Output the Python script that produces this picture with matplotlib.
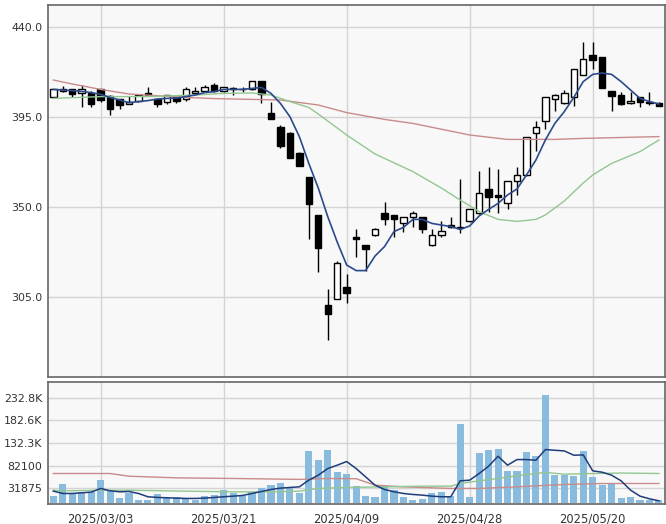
import matplotlib
matplotlib.use("Agg")
import matplotlib.pyplot as plt
import numpy as np

dates = ["2025/02/21", "2025/02/25", "2025/02/26", "2025/02/27", "2025/02/28",
         "2025/03/03", "2025/03/04", "2025/03/05", "2025/03/06", "2025/03/07",
         "2025/03/10", "2025/03/11", "2025/03/12", "2025/03/13", "2025/03/14",
         "2025/03/17", "2025/03/18", "2025/03/19", "2025/03/21", "2025/03/24",
         "2025/03/25", "2025/03/26", "2025/03/27", "2025/03/28", "2025/03/31",
         "2025/04/01", "2025/04/02", "2025/04/03", "2025/04/04", "2025/04/07",
         "2025/04/08", "2025/04/09", "2025/04/10", "2025/04/11", "2025/04/14",
         "2025/04/15", "2025/04/16", "2025/04/17", "2025/04/18", "2025/04/21",
         "2025/04/22", "2025/04/23", "2025/04/24", "2025/04/25", "2025/04/28",
         "2025/04/30", "2025/05/01", "2025/05/02", "2025/05/07", "2025/05/08",
         "2025/05/09", "2025/05/12", "2025/05/13", "2025/05/14", "2025/05/15",
         "2025/05/16", "2025/05/19", "2025/05/20", "2025/05/21", "2025/05/22",
         "2025/05/23", "2025/05/26", "2025/05/27", "2025/05/28", "2025/05/29"]

opens = [404.8, 407.8, 408.8, 406.8, 406.8, 408.8, 405.5, 403.8, 401.7, 402.8,
         406.8, 404.0, 402.5, 404.8, 403.8, 406.8, 407.8, 411.2, 407.8, 409.0,
         408.8, 408.8, 413.0, 397.2, 390.2, 386.8, 376.8, 365.0, 346.0, 301.0,
         304.0, 309.8, 334.8, 330.8, 335.8, 346.8, 345.8, 341.8, 344.8, 344.8,
         330.8, 335.8, 341.2, 339.5, 342.8, 346.8, 358.8, 355.8, 351.8, 362.8,
         365.8, 386.8, 392.8, 403.8, 401.8, 404.8, 416.0, 426.0, 425.0, 408.0,
         406.0, 401.8, 405.0, 402.2, 402.0]
highs = [409.2, 410.5, 409.2, 410.8, 408.0, 409.2, 406.0, 404.2, 405.7, 406.0,
         410.0, 404.3, 406.0, 405.0, 409.8, 409.8, 410.8, 411.8, 410.0, 409.8,
         409.8, 413.2, 413.2, 402.7, 391.0, 387.5, 377.5, 365.2, 346.2, 308.8,
         323.0, 316.5, 338.8, 331.0, 339.3, 352.7, 346.2, 345.0, 348.0, 345.2,
         338.8, 342.8, 344.8, 363.8, 349.0, 367.8, 369.8, 368.8, 363.0, 369.8,
         385.0, 392.8, 405.2, 406.5, 408.5, 419.2, 432.3, 432.3, 425.2, 408.2,
         407.5, 407.7, 405.2, 407.7, 402.3]
lows = [404.5, 407.5, 405.2, 399.8, 399.8, 402.7, 395.8, 399.0, 401.3, 402.5,
        405.6, 399.8, 401.7, 402.0, 402.8, 406.3, 407.3, 407.5, 407.3, 406.0,
        407.3, 408.5, 401.8, 393.8, 379.3, 374.5, 370.5, 334.0, 317.7, 283.5,
        303.8, 301.8, 324.8, 318.2, 335.3, 341.0, 334.8, 337.5, 339.8, 336.8,
        330.5, 334.8, 339.6, 337.2, 342.5, 346.5, 347.7, 346.8, 348.8, 355.8,
        365.5, 377.8, 388.8, 397.8, 401.5, 400.7, 415.8, 419.0, 409.5, 398.0,
        400.8, 401.5, 400.2, 401.0, 400.5]
closes = [408.8, 408.8, 406.5, 408.8, 401.5, 403.5, 398.8, 400.8, 402.5, 405.8,
          405.8, 401.5, 405.8, 402.8, 408.8, 407.8, 409.8, 407.8, 409.8, 409.3,
          409.0, 413.0, 406.5, 393.8, 380.7, 374.7, 370.7, 351.7, 329.7, 296.7,
          321.8, 306.8, 333.8, 328.8, 338.8, 343.8, 343.8, 344.8, 346.8, 338.8,
          335.8, 337.8, 339.8, 339.9, 348.8, 356.8, 354.8, 354.8, 362.8, 365.8,
          384.8, 389.8, 404.8, 405.8, 406.8, 419.0, 424.0, 423.7, 409.7, 405.7,
          401.7, 402.8, 402.7, 402.0, 400.7]

ma_short = [408.8, 408.5, 408.2, 407.8, 407.2, 406.3, 404.8, 403.5, 402.2, 402.7,
            403.2, 404.0, 404.3, 404.5, 405.2, 406.0, 407.2, 407.7, 408.8, 408.8,
            408.8, 409.3, 409.8, 406.8, 401.8, 395.2, 385.2, 371.8, 359.5, 345.2,
            332.5, 321.0, 318.2, 318.2, 325.5, 330.2, 337.7, 339.8, 343.8, 343.8,
            341.8, 341.0, 340.2, 338.8, 340.5, 345.5, 348.8, 351.8, 356.0, 359.0,
            366.0, 373.5, 383.5, 391.8, 397.7, 404.8, 412.7, 416.3, 417.0, 416.3,
            412.7, 408.5, 404.3, 402.7, 401.5]
ma_mid_idx = [0, 5, 10, 15, 18, 21, 23, 25, 27, 28, 31, 34, 38, 41, 43, 45, 47,
              49, 51, 52, 54, 56, 57, 59, 62, 64]
ma_mid = [404.3, 405.2, 405.2, 406.0, 406.8, 407.0, 406.0, 402.7, 399.8, 396.5,
          386.0, 376.5, 367.7, 359.5, 353.5, 347.7, 343.8, 342.8, 343.8, 346.0,
          353.0, 362.0, 366.0, 371.8, 377.7, 383.5]
ma_long_idx = [0, 2, 5, 8, 14, 17, 21, 24, 28, 31, 35, 38, 44, 48, 53, 56, 64]
ma_long = [413.5, 411.5, 408.8, 406.5, 404.8, 404.2, 403.8, 403.5, 401.0, 397.2,
           393.8, 391.8, 386.0, 383.8, 383.8, 384.3, 385.2]

volume = [14.7, 41.4, 20.8, 23.3, 24.0, 50.3, 27.5, 10.5, 21.6, 6.1,
          6.1, 19.4, 12.0, 12.0, 9.8, 6.1, 15.0, 17.0, 28.2, 22.7,
          15.0, 23.4, 32.2, 39.2, 43.3, 33.5, 20.8, 114.4, 94.5, 116.6,
          68.0, 63.5, 37.0, 15.0, 12.7, 37.0, 28.2, 12.7, 6.1, 8.3,
          21.6, 23.8, 15.0, 174.0, 12.7, 110.0, 116.6, 118.8, 70.2, 70.2,
          112.2, 103.3, 238.0, 61.3, 62.0, 59.1, 114.3, 57.0, 39.2, 42.5,
          10.5, 12.7, 6.1, 6.1, 6.1]
vol_ma_short = [26.0, 20.8, 20.8, 22.3, 23.8, 31.9, 26.7, 24.5, 25.2, 20.8,
                13.5, 12.0, 11.3, 10.5, 9.8, 9.8, 10.5, 12.0, 13.5, 14.9,
                16.4, 20.8, 25.2, 29.7, 32.6, 34.1, 35.5, 50.3, 61.3, 76.0,
                83.4, 91.5, 76.0, 57.6, 39.2, 29.7, 24.5, 20.8, 18.6, 17.1,
                14.9, 13.5, 13.5, 48.8, 50.3, 65.0, 81.2, 103.3, 83.4, 95.9,
                95.9, 94.4, 118.0, 116.5, 115.0, 105.5, 106.2, 70.9, 67.9, 61.3,
                48.8, 28.2, 14.9, 9.0, 4.6]
vol_ma_mid_idx = [0, 1, 5, 8, 12, 14, 19, 23, 26, 28, 31, 35, 39, 42, 43, 45, 47,
                  49, 52, 54, 57, 60, 64]
vol_ma_mid = [28.0, 26.6, 28.0, 28.0, 26.6, 25.9, 24.4, 24.4, 25.9, 31.9, 34.1,
              35.5, 37.0, 37.0, 42.9, 48.8, 53.9, 60.0, 67.4, 63.5, 65.0, 66.0, 65.0]
vol_ma_long_idx = [0, 6, 8, 13, 19, 26, 29, 32, 34, 37, 42, 45, 49, 54, 58, 64]
vol_ma_long = [65.0, 65.0, 59.0, 55.4, 54.0, 52.0, 54.0, 53.5, 39.2, 35.5, 31.9,
               31.9, 35.5, 40.7, 42.9, 42.9]

tick_dates = ["2025/03/03", "2025/03/21", "2025/04/09", "2025/04/28", "2025/05/20"]
price_ticks = [305.0, 350.0, 395.0, 440.0]
vol_ticks = [31875, 82100, 132325, 182550, 232775]
vol_tick_labels = ["31875", "82100", "132.3K", "182.6K", "232.8K"]

plt.rcParams['font.family'] = ['DejaVu Sans']

W, H = 666, 524
fig = plt.figure(figsize=(W / 100, H / 100), dpi=100)
ax = fig.add_axes([48 / W, (H - 377) / H, 617 / W, 372 / H])
axv = fig.add_axes([48 / W, (H - 504) / H, 617 / W, 122 / H], sharex=ax)

bg = "#f8f8f8"
grid_c = "#d4d4d4"
edge_c = "#666666"
for a in (ax, axv):
    a.set_facecolor(bg)
    for s in a.spines.values():
        s.set_color(edge_c)
        s.set_linewidth(1.2)
    a.grid(True, color=grid_c, linewidth=1.0)
    a.set_axisbelow(True)
    a.tick_params(length=0, labelsize=7.9, colors="#333333", pad=4)

x = np.arange(len(dates))
tick_pos = [dates.index(d) for d in tick_dates]

# candles
o = np.array(opens); c = np.array(closes)
up = c >= o
ax.vlines(x, lows, highs, color="black", linewidth=1.0, zorder=2)
body_h = np.maximum(np.abs(c - o), 0.35)
body_b = np.minimum(o, c)
ax.bar(x[up], body_h[up], bottom=body_b[up], width=0.68, color="white",
       edgecolor="black", linewidth=1.0, zorder=3)
ax.bar(x[~up], body_h[~up], bottom=body_b[~up], width=0.68, color="black",
       edgecolor="black", linewidth=1.0, zorder=3)

ax.plot(ma_long_idx, ma_long, color="#c98b8b", linewidth=1.0, zorder=4)
ax.plot(ma_mid_idx, ma_mid, color="#92c792", linewidth=1.0, zorder=4)
ax.plot(x, ma_short, color="#2b4a8b", linewidth=1.2, zorder=5)

ax.set_xlim(-0.56, 64.64)
ax.set_ylim(265, 451)
ax.set_yticks(price_ticks)
ax.set_yticklabels([f"{v:.1f}" for v in price_ticks])
ax.set_xticks(tick_pos)
ax.tick_params(axis="x", labelbottom=False)

# volume
vol = np.array(volume) * 1000
axv.bar(x, vol, width=0.75, color="#88bbdd", zorder=2)
axv.plot(vol_ma_long_idx, np.array(vol_ma_long) * 1000, color="#c98b8b", linewidth=1.0, zorder=3)
axv.plot(vol_ma_mid_idx, np.array(vol_ma_mid) * 1000, color="#92c792", linewidth=1.0, zorder=3)
axv.plot(x, np.array(vol_ma_short) * 1000, color="#1f3d7a", linewidth=1.1, zorder=4)
axv.set_ylim(-2500, 267600)
axv.set_yticks(vol_ticks)
axv.set_yticklabels(vol_tick_labels)
axv.set_xticks(tick_pos)
axv.set_xticklabels(tick_dates, fontsize=8.3)
axv.tick_params(axis="x", pad=6)

fig.savefig("out.png", dpi=100, facecolor="white")
